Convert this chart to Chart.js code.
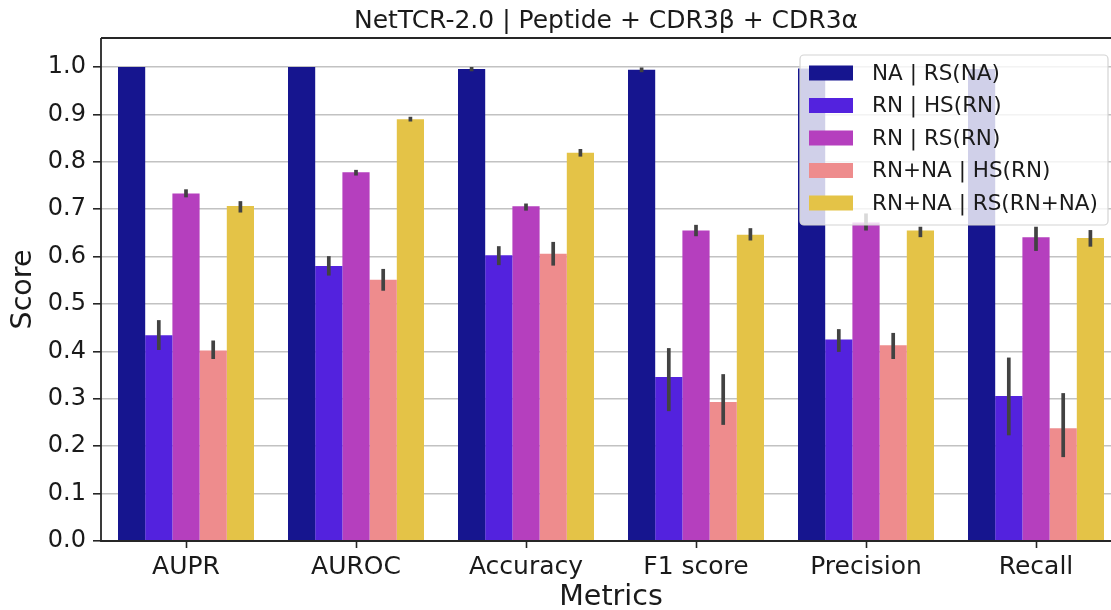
<!DOCTYPE html>
<html>
<head>
<meta charset="utf-8">
<script src="https://cdn.jsdelivr.net/npm/chart.js@4/dist/chart.umd.min.js"></script>
<style>
  html, body { margin: 0; padding: 0; background: #ffffff; overflow: hidden; }
  #wrap { width: 1111px; height: 610px; overflow: hidden; }
  canvas { display: block; }
</style>
</head>
<body>
<div id="wrap"><canvas id="chart" width="1222" height="610"></canvas></div>
<script>
// Metric categories along the x axis
const categories = ['AUPR', 'AUROC', 'Accuracy', 'F1 score', 'Precision', 'Recall'];

// Y axis tick values
const yTicks = [0.0, 0.1, 0.2, 0.3, 0.4, 0.5, 0.6, 0.7, 0.8, 0.9, 1.0];

// Series labels
const seriesLabels = ['NA | RS(NA)', 'RN | HS(RN)', 'RN | RS(RN)', 'RN+NA | HS(RN)', 'RN+NA | RS(RN+NA)'];
const seriesColors = ['#16158f', '#5322de', '#b53fbe', '#ee8c8d', '#e4c347'];

const chartTitle = 'NetTCR-2.0 | Peptide + CDR3β + CDR3α';

// Mean scores per series
const naRsNa      = [1.000, 1.000, 0.996, 0.994, 0.997, 0.996];
const rnHsRn      = [0.434, 0.580, 0.603, 0.346, 0.425, 0.306];
const rnRsRn      = [0.733, 0.778, 0.706, 0.655, 0.672, 0.641];
const rnnaHsRn    = [0.402, 0.551, 0.606, 0.293, 0.413, 0.238];
const rnnaRsRnna  = [0.707, 0.890, 0.819, 0.646, 0.655, 0.639];

// Confidence interval bounds (low / high) per series
const naRsNaLo     = [null, null, 0.991, 0.989, 0.993, 0.992];
const naRsNaHi     = [null, null, 1.000, 0.999, 1.000, 1.000];
const rnHsRnLo     = [0.403, 0.560, 0.582, 0.274, 0.399, 0.223];
const rnHsRnHi     = [0.466, 0.601, 0.622, 0.407, 0.447, 0.387];
const rnRsRnLo     = [0.725, 0.771, 0.697, 0.643, 0.655, 0.612];
const rnRsRnHi     = [0.742, 0.783, 0.712, 0.667, 0.691, 0.663];
const rnnaHsRnLo   = [0.384, 0.528, 0.581, 0.245, 0.384, 0.177];
const rnnaHsRnHi   = [0.423, 0.574, 0.631, 0.352, 0.439, 0.312];
const rnnaRsRnnaLo = [0.693, 0.885, 0.811, 0.634, 0.641, 0.621];
const rnnaRsRnnaHi = [0.717, 0.895, 0.827, 0.660, 0.663, 0.656];

const seriesValues = [naRsNa, rnHsRn, rnRsRn, rnnaHsRn, rnnaRsRnna];
const seriesLo = [naRsNaLo, rnHsRnLo, rnRsRnLo, rnnaHsRnLo, rnnaRsRnnaLo];
const seriesHi = [naRsNaHi, rnHsRnHi, rnRsRnHi, rnnaHsRnHi, rnnaRsRnnaHi];

const FONT = "'DejaVu Sans', 'Liberation Sans', sans-serif";
const INK = '#1a1a1a';
const SPINE = '#262626';

// Error bars, axis spines drawn over the bars
const overlayPlugin = {
  id: 'overlay',
  afterDatasetsDraw(chart) {
    const ctx = chart.ctx;
    const y = chart.scales.y;
    ctx.save();
    ctx.strokeStyle = '#424242';
    ctx.lineWidth = 3.7;
    ctx.lineCap = 'butt';
    chart.data.datasets.forEach((ds, i) => {
      const meta = chart.getDatasetMeta(i);
      meta.data.forEach((bar, j) => {
        const lo = ds.errLo[j], hi = ds.errHi[j];
        if (lo == null || hi == null) return;
        ctx.beginPath();
        ctx.moveTo(bar.x, y.getPixelForValue(lo));
        ctx.lineTo(bar.x, y.getPixelForValue(hi));
        ctx.stroke();
      });
    });
    const a = chart.chartArea;
    ctx.strokeStyle = SPINE;
    ctx.lineWidth = 1.8;
    ctx.beginPath();
    ctx.moveTo(a.left, a.top);
    ctx.lineTo(a.right, a.top);
    ctx.moveTo(a.left, a.top);
    ctx.lineTo(a.left, a.bottom);
    ctx.lineTo(a.right, a.bottom);
    ctx.stroke();
    ctx.restore();
  }
};

// Title above the plot area, legend box in its upper-right corner
const legendPlugin = {
  id: 'innerLegend',
  afterDraw(chart) {
    const ctx = chart.ctx;
    const a = chart.chartArea;
    ctx.save();
    ctx.font = '25px ' + FONT;
    ctx.fillStyle = INK;
    ctx.textAlign = 'center';
    ctx.textBaseline = 'middle';
    ctx.fillText(chartTitle, (a.left + a.right) / 2 - 5, 21);

    const w = 308, h = 170;
    const x0 = a.right - 13 - w, y0 = a.top + 17;
    ctx.fillStyle = 'rgba(255,255,255,0.8)';
    ctx.strokeStyle = '#d4d4d4';
    ctx.lineWidth = 1.2;
    ctx.beginPath();
    ctx.roundRect(x0, y0, w, h, 4);
    ctx.fill();
    ctx.stroke();
    ctx.font = '21.5px ' + FONT;
    ctx.textBaseline = 'middle';
    ctx.textAlign = 'left';
    chart.data.datasets.forEach((ds, i) => {
      const cy = y0 + 18 + i * 32.5;
      ctx.fillStyle = ds.backgroundColor;
      ctx.fillRect(x0 + 9, cy - 7.5, 44, 15);
      ctx.fillStyle = INK;
      ctx.fillText(ds.label, x0 + 72, cy + 1);
    });
    ctx.restore();
  }
};

new Chart(document.getElementById('chart'), {
  type: 'bar',
  data: {
    labels: categories,
    datasets: seriesLabels.map((label, i) => ({
      label,
      data: seriesValues[i],
      errLo: seriesLo[i],
      errHi: seriesHi[i],
      backgroundColor: seriesColors[i],
      borderWidth: 0,
      categoryPercentage: 0.8,
      barPercentage: 1.0
    }))
  },
  options: {
    responsive: false,
    animation: false,
    devicePixelRatio: 1,
    layout: { padding: { left: 0, right: 101, top: 38, bottom: 0 } },
    plugins: {
      legend: { display: false },
      tooltip: { enabled: false },
      title: { display: false }
    },
    scales: {
      x: {
        offset: true,
        border: { display: false },
        grid: {
          offset: false,
          drawOnChartArea: false,
          drawTicks: true,
          tickLength: 7,
          tickColor: SPINE,
          tickWidth: 1.6
        },
        ticks: {
          color: INK,
          padding: 4,
          font: { family: FONT, size: 25 }
        },
        title: {
          display: true,
          text: 'Metrics',
          color: INK,
          font: { family: FONT, size: 28.5, lineHeight: 0.85 },
          padding: { top: 0, bottom: 0 }
        },
        afterFit(scale) { scale.height = 69; }
      },
      y: {
        min: 0,
        max: 1.0612,
        border: { display: false },
        grid: {
          color: '#c2c2c2',
          lineWidth: 1.6,
          drawTicks: true,
          tickLength: 8,
          tickColor: SPINE,
          tickWidth: 1.6
        },
        afterBuildTicks(scale) {
          scale.ticks = yTicks.map(v => ({ value: v }));
        },
        ticks: {
          color: INK,
          padding: 7,
          font: { family: FONT, size: 24 },
          callback: v => Number(v).toFixed(1)
        },
        title: {
          display: true,
          text: 'Score',
          color: INK,
          font: { family: FONT, size: 28.5, lineHeight: 0.85 },
          padding: { top: 11, bottom: 0 }
        },
        afterFit(scale) { scale.width = 101; }
      }
    }
  },
  plugins: [overlayPlugin, legendPlugin]
});
</script>
</body>
</html>
